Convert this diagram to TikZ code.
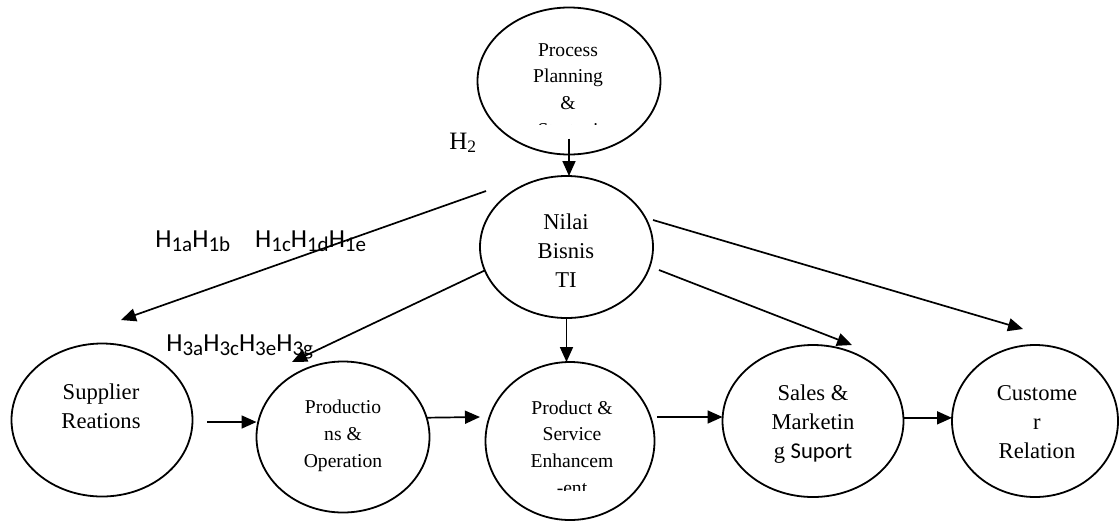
\documentclass[tikz,border=0pt]{standalone}
\usepackage{fontspec}
\setmainfont{Liberation Serif}
\newfontfamily\calibri{Carlito}
\usetikzlibrary{arrows.meta,shapes.geometric,calc}
\newcommand{\hlab}[1]{H\raisebox{-2.2pt}{\fontsize{10.5pt}{10.5pt}\selectfont #1}}

\begin{document}
\begin{tikzpicture}[x=.5pt,y=-.5pt,>={Triangle[length=7.5pt,width=6.5pt]},
  oval/.style={draw,ellipse,line width=.9pt,inner sep=0pt,outer sep=0pt},
  bigtxt/.style={align=center,inner sep=0pt,anchor=base,font=\fontsize{11.3pt}{14.5pt}\selectfont},
  smalltxt/.style={align=center,inner sep=0pt,anchor=base,font=\fontsize{9.8pt}{13.3pt}\selectfont},
  hyp/.style={inner sep=0pt,anchor=base west,font=\calibri\fontsize{13pt}{15pt}\selectfont},
  arr/.style={->,line width=.85pt}]
\useasboundingbox (0,0) rectangle (1119,521);
% ovals
\node[oval,minimum width=91.5pt,minimum height=73.5pt] (proc) at (569,81) {};
\node[oval,minimum width=86.5pt,minimum height=71pt] (nilai) at (566.5,247) {};
\node[oval,minimum width=90.5pt,minimum height=76.5pt] (supp) at (102,420) {};
\node[oval,minimum width=86.5pt,minimum height=75.5pt] (prodn) at (343,437) {};
\node[oval,minimum width=84.5pt,minimum height=79pt] (prodsv) at (570,441) {};
\node[oval,minimum width=90.5pt,minimum height=76pt] (sales) at (813,421) {};
\node[oval,minimum width=83pt,minimum height=76pt] (cust) at (1035,421) {};
% texts (anchored at the baseline of the last line)
\begin{scope}
\clip (470,0) rectangle (670,124.5);
\node[smalltxt] (procT) at (568,136) {Process\\Planning\\\&\\Strategi};
\end{scope}
\node[bigtxt] (nilaiT) at (566,287) {Nilai\\Bisnis\\TI};
\node[bigtxt] (suppT) at (101,428) {Supplier\\Reations};
\node[smalltxt] (prodnT) at (343,467) {Productio\\ns \&\\Operation};
\begin{scope}
\clip (480,350) rectangle (660,490);
\node[smalltxt] (prodsvT) at (572,494) {Product \&\\Service\\Enhancem\\-ent};
\end{scope}
\node[bigtxt] (salesT) at (813,458) {Sales \&\\Marketin\\g {\calibri Suport}};
\node[bigtxt] (custT) at (1037,458) {Custome\\r\\Relation};
% hypotheses
\node[inner sep=0pt,anchor=base west,font=\fontsize{12.5pt}{15pt}\selectfont] (htwo) at (449,149) {H\textsubscript{2}};
\node[hyp] (hone) at (155,247) {\hlab{1a}\hlab{1b}\hspace{12.5pt}\hlab{1c}\hlab{1d}\hlab{1e}};
\node[hyp] (hthree) at (166,351) {\hlab{3a}\hlab{3c}\hlab{3e}\hlab{3g}};
% free ends
\coordinate (h1a) at (486,191);
\coordinate (h1b) at (121,320);
\coordinate (h3b) at (292,362);
\coordinate (sma) at (659,270);
\coordinate (smb) at (852,345);
\coordinate (cra) at (653,220);
\coordinate (crb) at (1023,329);
\coordinate (spa) at (207,422);
\coordinate (pob) at (480,417);
\coordinate (psa) at (657,417);
% arrows
\draw[arr] ($(proc.south)+(0,-16)$) -- (proc.south |- nilai.north);
\draw[arr] (h1a) -- (h1b);
\draw[arr] (nilai.196) -- (h3b);
\draw[arr] (sma) -- (smb);
\draw[arr] (cra) -- (crb);
\draw[arr] (nilai.south) -- (nilai.south |- prodsv.north);
\draw[arr] (spa) -- (spa -| prodn.west);
\draw[arr] (prodn.13.5) -- (pob);
\draw[arr] (psa) -- (psa -| sales.west);
\draw[arr] (sales.2.5) -- (sales.2.5 -| cust.west);
\end{tikzpicture}
\end{document}
